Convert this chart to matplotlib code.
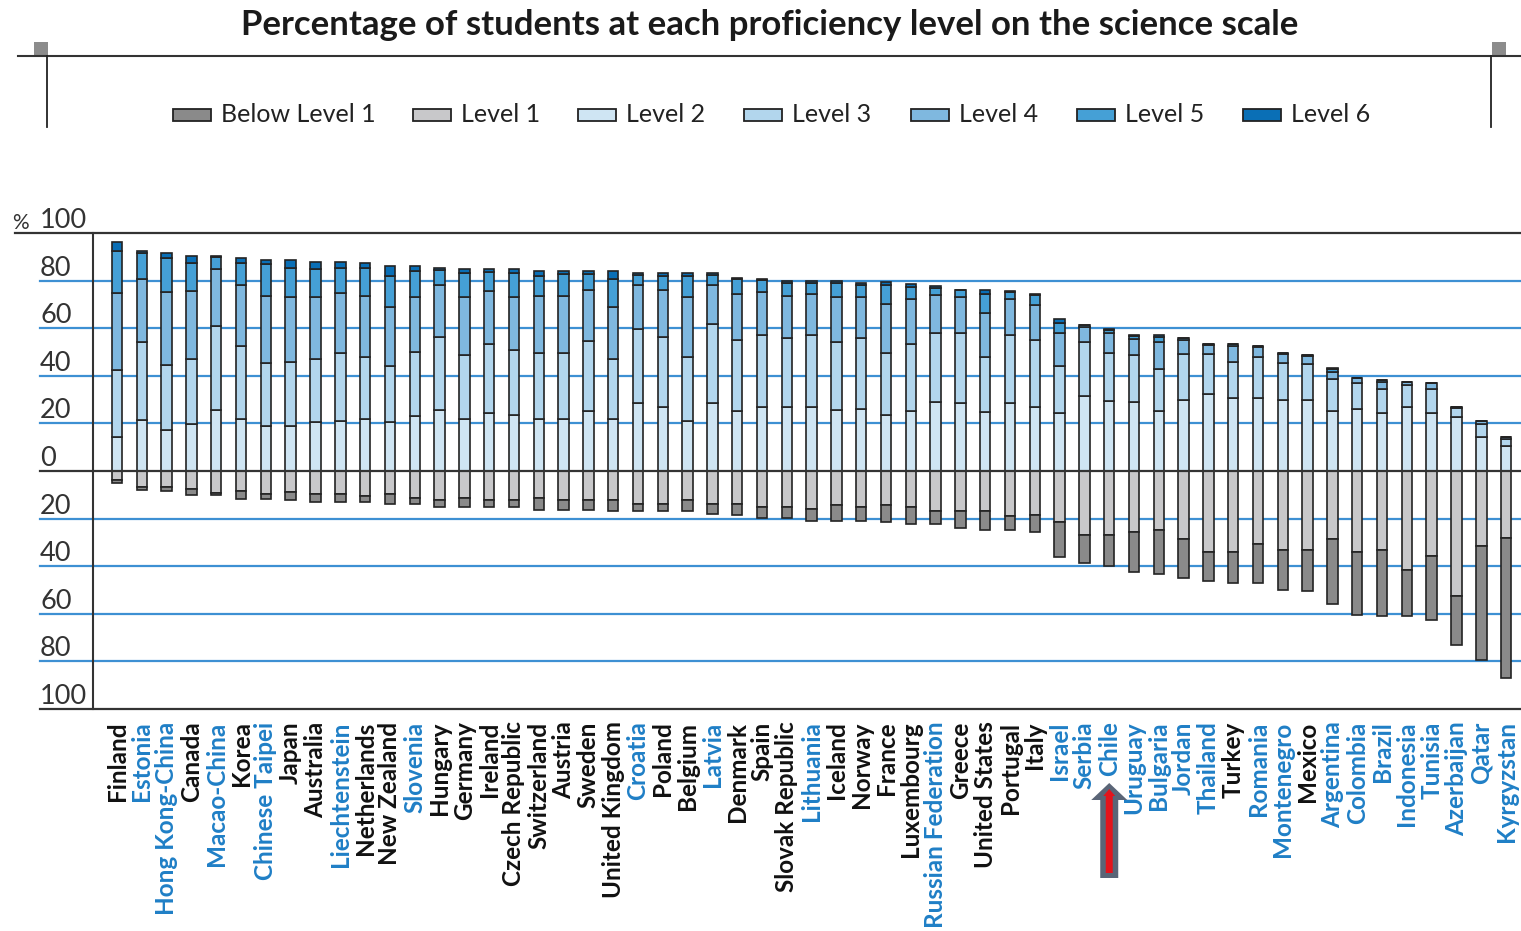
import matplotlib
matplotlib.use("Agg")
import matplotlib.pyplot as plt
import numpy as np
from matplotlib.patches import Rectangle, Polygon
from matplotlib.transforms import blended_transform_factory, IdentityTransform

countries = ["Finland", "Estonia", "Hong Kong-China", "Canada", "Macao-China", "Korea",
             "Chinese Taipei", "Japan", "Australia", "Liechtenstein", "Netherlands",
             "New Zealand", "Slovenia", "Hungary", "Germany", "Ireland", "Czech Republic",
             "Switzerland", "Austria", "Sweden", "United Kingdom", "Croatia", "Poland",
             "Belgium", "Latvia", "Denmark", "Spain", "Slovak Republic", "Lithuania",
             "Iceland", "Norway", "France", "Luxembourg", "Russian Federation", "Greece",
             "United States", "Portugal", "Italy", "Israel", "Serbia", "Chile", "Uruguay",
             "Bulgaria", "Jordan", "Thailand", "Turkey", "Romania", "Montenegro", "Mexico",
             "Argentina", "Colombia", "Brazil", "Indonesia", "Tunisia", "Azerbaijan",
             "Qatar", "Kyrgyzstan"]
partner = [0, 1, 1, 0, 1, 0, 1, 0, 0, 1, 0, 0, 1, 0, 0, 0, 0, 0, 0, 0, 0, 1, 0, 0, 1,
           0, 0, 0, 1, 0, 0, 0, 0, 1, 0, 0, 0, 0, 1, 1, 1, 1, 1, 1, 1, 0, 1, 1, 0,
           1, 1, 1, 1, 1, 1, 1, 1]

below1 = [1.0, 1.1, 1.9, 2.5, 0.8, 3.2, 1.8, 3.5, 3.2, 3.2, 2.5, 4.1, 2.7, 3.2, 3.9, 3.2,
          3.2, 4.8, 4.1, 4.1, 4.9, 3.2, 3.2, 4.9, 4.1, 4.8, 4.8, 4.8, 5.1, 6.5, 5.8, 7.2,
          7.0, 5.6, 7.4, 8.1, 5.7, 7.1, 14.7, 11.7, 13.1, 16.8, 18.5, 16.3, 12.5, 13.2,
          16.4, 16.6, 17.3, 27.2, 26.5, 27.9, 19.5, 27.2, 20.2, 48.1, 58.6]
level1 = [3.9, 6.7, 6.7, 7.7, 9.2, 8.4, 9.8, 8.8, 9.8, 9.8, 10.5, 9.8, 11.2, 12.1, 11.4,
          12.1, 12.1, 11.4, 12.1, 12.1, 12.1, 13.8, 13.8, 12.1, 13.8, 13.8, 15.1, 15.1,
          15.8, 14.4, 15.1, 14.4, 15.3, 16.7, 16.7, 16.7, 19.1, 18.4, 21.6, 26.9, 26.9,
          25.5, 24.7, 28.6, 33.9, 33.9, 30.7, 33.2, 33.2, 28.6, 33.9, 33.2, 41.6, 35.6,
          52.7, 31.4, 28.3]
level2 = [14.1, 21.4, 17.3, 19.7, 25.6, 21.8, 18.8, 18.8, 20.4, 21.2, 21.9, 20.4, 23.2,
          25.6, 21.8, 24.3, 23.6, 21.8, 21.8, 25.2, 21.8, 28.6, 27.0, 21.1, 28.6, 25.3,
          27.0, 27.0, 26.7, 25.6, 26.0, 23.5, 25.3, 29.1, 28.4, 25.0, 28.4, 26.7, 24.3,
          31.4, 29.3, 29.1, 25.2, 30.0, 32.3, 30.7, 30.7, 29.8, 29.8, 25.3, 26.0, 24.2,
          26.7, 24.3, 22.8, 14.3, 10.3]
level3 = [28.4, 32.7, 27.4, 27.3, 35.4, 30.8, 26.6, 26.8, 26.7, 28.4, 26.2, 23.9, 26.7,
          30.9, 27.0, 29.0, 27.4, 27.7, 27.7, 29.5, 25.2, 31.2, 29.5, 27.0, 33.3, 29.6,
          30.2, 28.8, 30.5, 28.5, 29.8, 26.0, 28.1, 29.0, 29.7, 22.8, 28.8, 28.2, 20.0,
          22.7, 20.3, 19.7, 17.7, 19.0, 16.7, 15.0, 17.4, 15.6, 15.2, 13.4, 11.0, 10.3,
          9.4, 10.2, 3.7, 5.4, 3.0]
level4 = [32.5, 26.6, 30.5, 28.5, 23.7, 25.7, 28.2, 27.4, 25.9, 25.1, 25.5, 24.6, 23.0,
          21.8, 24.1, 22.2, 21.9, 24.1, 24.1, 21.5, 21.9, 18.5, 19.7, 24.8, 16.4, 19.4,
          18.0, 17.8, 17.1, 18.8, 17.1, 20.8, 18.8, 15.7, 14.8, 18.7, 15.0, 14.7, 13.8,
          6.3, 8.2, 6.8, 11.2, 6.2, 4.0, 6.8, 4.2, 3.6, 3.4, 3.1, 2.0, 2.8, 1.5, 2.3,
          0.5, 1.2, 0.8]
level5 = [17.4, 11.0, 14.1, 12.1, 5.2, 9.3, 13.2, 12.2, 11.7, 10.7, 11.8, 13.1, 11.1,
          6.1, 10.1, 8.2, 10.1, 8.4, 9.1, 6.7, 11.7, 4.2, 5.8, 9.1, 4.1, 6.3, 4.9, 5.4,
          4.9, 5.9, 5.4, 7.8, 5.2, 3.2, 3.0, 8.0, 3.0, 4.2, 4.2, 0.8, 1.5, 1.3, 2.3, 0.6,
          0.4, 0.9, 0.4, 0.5, 0.4, 1.2, 0.0, 0.8, 0.0, 0.0, 0.0, 0.2, 0.0]
level6 = [3.9, 0.8, 2.5, 2.7, 0.4, 1.9, 1.8, 3.4, 3.2, 2.5, 1.8, 4.2, 2.2, 1.1, 1.7, 1.0,
          1.7, 2.0, 1.3, 1.2, 3.4, 0.5, 1.0, 1.0, 0.6, 0.7, 0.6, 0.9, 0.7, 1.1, 0.9, 1.4,
          1.1, 0.6, 0.3, 1.7, 0.3, 0.5, 1.4, 0.0, 0.2, 0.3, 0.8, 0.0, 0.0, 0.0, 0.0,
          0.0, 0.0, 0.2, 0.0, 0.3, 0.0, 0.0, 0.0, 0.0, 0.0]

legend_labels = ["Below Level 1", "Level 1", "Level 2", "Level 3", "Level 4", "Level 5", "Level 6"]
colors = ["#8a8a8a", "#c8c8ca", "#cfe5f3", "#b2d6ed", "#7fb8df", "#45a0d6", "#0a6fb6"]
ytick_vals = [100, 80, 60, 40, 20, 0, -20, -40, -60, -80, -100]
ytick_labels = ["100", "80", "60", "40", "20", "0", "20", "40", "60", "80", "100"]

W, H = 1521, 931
fig = plt.figure(figsize=(W / 100, H / 100), dpi=100)
fig.patch.set_facecolor("white")
ax = fig.add_axes([93 / W, 1 - 709 / H, (W - 93) / W, (709 - 233) / H])

x = np.arange(len(countries))
bw = 0.42
edge = "#232323"
lw = 1.2

# positive stack
bottom = np.zeros(len(countries))
for vals, col in zip([level2, level3, level4, level5, level6], colors[2:]):
    v = np.array(vals)
    ax.bar(x, v, bw, bottom=bottom, color=col, edgecolor=edge, linewidth=lw, zorder=3)
    bottom += v
# negative stack
l1 = -np.array(level1)
b1 = -np.array(below1)
ax.bar(x, l1, bw, bottom=0, color=colors[1], edgecolor=edge, linewidth=lw, zorder=3)
ax.bar(x, b1, bw, bottom=l1, color=colors[0], edgecolor=edge, linewidth=lw, zorder=3)

ax.set_ylim(-100, 100)
ax.set_xlim(-0.97, 56.6)
for s in ax.spines.values():
    s.set_visible(False)
ax.spines["left"].set_visible(True)
ax.spines["left"].set_color("#333333")
ax.spines["left"].set_linewidth(1.5)

tr = blended_transform_factory(ax.transAxes, ax.transData)
x_grid0 = (40 - 93) / (W - 93)
x_top0 = (15 - 93) / (W - 93)
for v in [80, 60, 40, 20, -20, -40, -60, -80]:
    ax.plot([x_grid0, 1], [v, v], color="#3d90d3", lw=1.6, transform=tr, clip_on=False, zorder=1)
ax.plot([x_grid0, 1], [0, 0], color="#333333", lw=1.6, transform=tr, clip_on=False, zorder=4)
ax.plot([x_top0, 1], [100, 100], color="#333333", lw=1.6, transform=tr, clip_on=False, zorder=4)
ax.plot([x_grid0, 1], [-100, -100], color="#333333", lw=1.6, transform=tr, clip_on=False, zorder=4)

# y tick labels (above the lines)
ax.set_yticks(ytick_vals)
ax.set_yticklabels(ytick_labels, ha="left", va="bottom", fontfamily="Lato", fontsize=19.5, color="#333333")
ax.tick_params(axis="y", length=0, pad=(93 - 40) * 72 / 100)
ax.text((12 - 93) / (W - 93), 100, "%", transform=tr, ha="left", va="bottom",
        fontfamily="Lato", fontsize=15, color="#333333")

# x tick labels
ax.set_xticks(x)
ax.set_xticklabels(countries, rotation=90, va="top", ha="center",
                   fontfamily="Lato", fontweight="bold", fontsize=17.5)
ax.tick_params(axis="x", length=0, pad=9)
for lab, p in zip(ax.get_xticklabels(), partner):
    lab.set_color("#1f7fc6" if p else "#111111")

# Title and header rule
fig.text(770 / W, 1 - 25 / H, "Percentage of students at each proficiency level on the science scale",
         ha="center", va="center", fontfamily="Lato", fontweight="bold", fontsize=25, color="#1a1a1a")
fig.add_artist(plt.Line2D([18 / W, 1], [1 - 56 / H] * 2, color="#333333", lw=1.5))
for xv in [47, 1491]:
    fig.add_artist(plt.Line2D([xv / W] * 2, [1 - 56 / H, 1 - 127 / H], color="#222222", lw=1.3))
for xs in [34, 1492]:
    fig.add_artist(Rectangle((xs / W, 1 - 55 / H), 14 / W, 13 / H, transform=fig.transFigure,
                             facecolor="#8c8c8c", edgecolor="none"))

# Legend
box_x = [173, 413, 578, 744, 911, 1077, 1243]
for bx, lab, col in zip(box_x, legend_labels, colors):
    fig.add_artist(Rectangle((bx / W, 1 - 121 / H), 38 / W, 12 / H, transform=fig.transFigure,
                             facecolor=col, edgecolor="#222222", lw=1.3))
    fig.text((bx + 48) / W, 1 - 115 / H, lab, ha="left", va="center", fontfamily="Lato",
             fontsize=18, color="#222222")

# Arrow pointing at Chile
fig.canvas.draw()
ci = countries.index("Chile")
cx = ax.transData.transform((ci, 0))[0]
def py(v):
    return H - v
outer = [(cx - 9, py(878)), (cx + 9, py(878)), (cx + 9, py(800)), (cx + 18, py(800)),
         (cx, py(783)), (cx - 18, py(800)), (cx - 9, py(800))]
inner = [(cx - 3.5, py(873)), (cx + 3.5, py(873)), (cx + 3.5, py(796)), (cx + 6, py(796)),
         (cx, py(789)), (cx - 6, py(796)), (cx - 3.5, py(796))]
fig.add_artist(Polygon(outer, closed=True, transform=IdentityTransform(), facecolor="#5a6577",
                       edgecolor="none", zorder=10))
fig.add_artist(Polygon(inner, closed=True, transform=IdentityTransform(), facecolor="#e3141c",
                       edgecolor="none", zorder=11))

fig.savefig("out.png", dpi=100, facecolor="white")
